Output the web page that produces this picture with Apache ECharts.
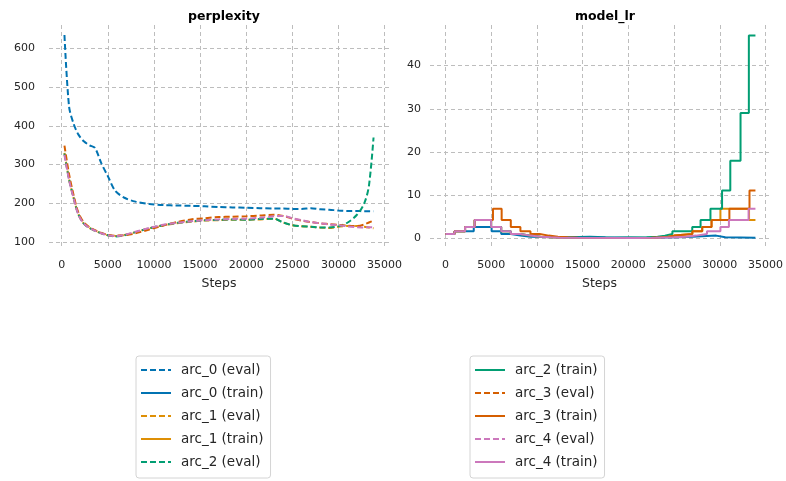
<!DOCTYPE html>
<html>
<head>
<meta charset="utf-8">
<script src="https://cdn.jsdelivr.net/npm/echarts@6/dist/echarts.min.js"></script>
<style>
  html, body { margin: 0; padding: 0; background: #fff; }
  #chart { width: 786px; height: 481px; }
</style>
</head>
<body>
<div id="chart"></div>
<script>
// perplexity (eval) - steps shared by all eval curves
const evalSteps = [300, 800, 1300, 1800, 2400, 3000, 3600, 4300, 5000, 5800, 6800, 8000, 9500, 11000, 12500,
  14000, 15500, 17000, 18500, 20000, 21500, 23000, 24000, 25000, 26000, 27000, 28000, 29000, 30000, 31000,
  32000, 32800, 33300, 33800];
const pplArc0 = [635, 450, 405, 378, 360, 350, 343, 303, 270, 232, 214, 204, 198, 195, 194,
  193, 192, 190, 189, 188, 187, 186, 186, 185, 185, 187, 184, 183, 181, 180, 180, 179, 179, 179];
const pplArc1 = [330, 262, 213, 172, 147, 136, 129, 122, 117, 115, 118, 125, 135, 143, 148,
  152, 155, 156, 157, 157, 158, 160, 150, 143, 140, 139, 137, 136, 139, 141, 141, 139, 137, 135];
const pplArc2 = [328, 262, 214, 172, 147, 136, 129, 122, 117, 114, 117, 125, 135, 143, 149,
  153, 156, 157, 158, 157, 159, 160, 150, 143, 140, 139, 137, 137, 140, 150, 170, 200, 245, 370];
const pplArc3 = [349, 275, 220, 176, 150, 138, 130, 123, 118, 116, 117, 122, 132, 142, 151,
  158, 161, 164, 165, 166, 168, 170, 167, 160, 155, 151, 148, 146, 144, 142, 141, 145, 150, 155];
const pplArc4 = [325, 260, 212, 171, 147, 136, 129, 122, 117, 115, 118, 126, 136, 144, 149,
  153, 156, 158, 159, 160, 162, 166, 167, 161, 156, 151, 148, 145, 143, 140, 138, 137, 138, 138];

// model_lr (train) - [step, level] change points, drawn as steps
const lrArc0 = [[0, 1], [1000, 1.618], [3100, 2.618], [5050, 1.618], [6100, 1], [7150, 0.618], [8200, 0.382],
  [9300, 0.236], [13300, 0.382], [15800, 0.236], [17500, 0.146], [22000, 0.236], [25500, 0.382],
  [27000, 0.618], [29600, 0.236], [30600, 0.146], [33900, 0.146]];
const lrArc1 = [[0, 1], [1000, 1.618], [2150, 2.618], [3200, 4.236], [5000, 2.618], [6100, 1.618], [7150, 1],
  [8200, 0.618], [9300, 0.382], [10400, 0.236], [11500, 0.146], [12500, 0.09], [21000, 0.146], [22500, 0.236],
  [23500, 0.382], [24300, 0.618], [25000, 1], [27000, 1.618], [28080, 2.618], [29100, 4.236], [30070, 6.854],
  [33200, 4.236], [33900, 4.236]];
const lrArc2 = [[0, 1], [1000, 1.618], [2150, 2.618], [3200, 4.236], [5000, 2.618], [6100, 1.618], [7150, 1],
  [8200, 0.618], [9300, 0.382], [10400, 0.236], [11500, 0.146], [18500, 0.236], [22000, 0.382], [23200, 0.618],
  [24000, 1], [24820, 1.618], [26990, 2.618], [27900, 4.236], [28980, 6.854], [30250, 11.09], [31150, 17.94],
  [32270, 29.03], [33180, 46.98], [33900, 46.98]];
const lrArc3 = [[0, 1], [1000, 1.618], [2150, 2.618], [3200, 4.236], [5200, 6.854], [6150, 4.236], [7150, 2.618],
  [8200, 1.618], [9300, 1], [10300, 0.618], [11300, 0.382], [12300, 0.236], [13400, 0.146], [14500, 0.09],
  [21000, 0.146], [22500, 0.236], [23500, 0.382], [24300, 0.618], [25000, 1], [27000, 1.618], [28080, 2.618],
  [29100, 4.236], [31050, 6.854], [33250, 11.09], [33900, 11.09]];
const lrArc4 = [[0, 1], [1000, 1.618], [2150, 2.618], [3200, 4.236], [5000, 2.618], [6100, 1.618], [7150, 1],
  [8200, 0.618], [9300, 0.382], [10400, 0.236], [11500, 0.146], [12500, 0.09], [21000, 0.146], [23000, 0.236],
  [25000, 0.382], [26300, 0.618], [27400, 1], [28600, 1.618], [30070, 2.618], [31000, 4.236], [33150, 6.854],
  [33900, 6.854]];

const colors = ['#0173b2', '#de8f05', '#029e73', '#d55e00', '#cc78bc'];
const arcs = ['arc_0', 'arc_1', 'arc_2', 'arc_3', 'arc_4'];
const pplValues = [pplArc0, pplArc1, pplArc2, pplArc3, pplArc4];
const lrValues = [lrArc0, lrArc1, lrArc2, lrArc3, lrArc4];

const FONT = 'DejaVu Sans';
const TXT = '#262626';

const gridLine = { show: true, showMinLine: false, showMaxLine: false,
  lineStyle: { color: '#bdbdbd', type: [4, 3], width: 1 } };

function xAxisFor(gridIndex, min, max) {
  return {
    type: 'value', gridIndex, min, max, splitNumber: 7,
    name: 'Steps', nameLocation: 'middle', nameGap: 29,
    nameTextStyle: { fontFamily: FONT, fontSize: 12.5, color: TXT },
    axisLine: { show: false }, axisTick: { show: false },
    axisLabel: { showMinLabel: false, showMaxLabel: false, fontFamily: FONT, fontSize: 11, color: TXT, margin: 12,
      formatter: v => String(v) },
    splitLine: gridLine
  };
}
function yAxisFor(gridIndex, min, max, split, margin) {
  return {
    type: 'value', gridIndex, min, max, splitNumber: split,
    axisLine: { show: false }, axisTick: { show: false },
    axisLabel: { showMinLabel: false, showMaxLabel: false, fontFamily: FONT, fontSize: 11, color: TXT, margin,
      formatter: v => String(v) },
    splitLine: gridLine
  };
}

const series = [];
arcs.forEach((arc, i) => {
  series.push({
    name: arc + ' (eval)', type: 'line', xAxisIndex: 0, yAxisIndex: 0,
    data: evalSteps.map((s, j) => [s, pplValues[i][j]]),
    symbol: 'none', smooth: 0.3, color: colors[i],
    lineStyle: { width: 2, type: [6, 3] }
  });
  series.push({
    name: arc + ' (train)', type: 'line', xAxisIndex: 1, yAxisIndex: 1,
    data: lrValues[i], step: 'end',
    symbol: 'none', color: colors[i],
    lineStyle: { width: 2 }
  });
});

const legendBase = {
  orient: 'vertical', top: 356, itemWidth: 30, itemHeight: 14, itemGap: 7,
  padding: [6, 7, 8, 4], borderColor: '#d4d4d4', borderWidth: 1, borderRadius: 3,
  itemStyle: { opacity: 0, borderWidth: 0 },
  textStyle: { fontFamily: FONT, fontSize: 13.5, color: TXT, lineHeight: 16, padding: [0, 0, 0, 5] }
};

const chart = echarts.init(document.getElementById('chart'), null, { renderer: 'canvas' });
chart.setOption({
  animation: false,
  backgroundColor: '#fff',
  title: [
    { text: 'perplexity', left: 219, top: 5, textAlign: 'center',
      textStyle: { fontFamily: FONT, fontSize: 12.5, fontWeight: 'bold', color: '#000' } },
    { text: 'model_lr', left: 600, top: 5, textAlign: 'center',
      textStyle: { fontFamily: FONT, fontSize: 12.5, fontWeight: 'bold', color: '#000' } }
  ],
  grid: [
    { left: 49, right: 397, top: 25, bottom: 233 },
    { left: 430, right: 16, top: 25, bottom: 233 }
  ],
  xAxis: [xAxisFor(0, -1375, 35475), xAxisFor(1, -1685, 35385)],
  yAxis: [yAxisFor(0, 84, 661, 6, 14), yAxisFor(1, -2.25, 49.4, 5, 9)],
  legend: [
    Object.assign({}, legendBase, { left: 136,
      data: ['arc_0 (eval)', 'arc_0 (train)', 'arc_1 (eval)', 'arc_1 (train)', 'arc_2 (eval)'] }),
    Object.assign({}, legendBase, { left: 470,
      data: ['arc_2 (train)', 'arc_3 (eval)', 'arc_3 (train)', 'arc_4 (eval)', 'arc_4 (train)'] })
  ],
  series
});
</script>
</body>
</html>
